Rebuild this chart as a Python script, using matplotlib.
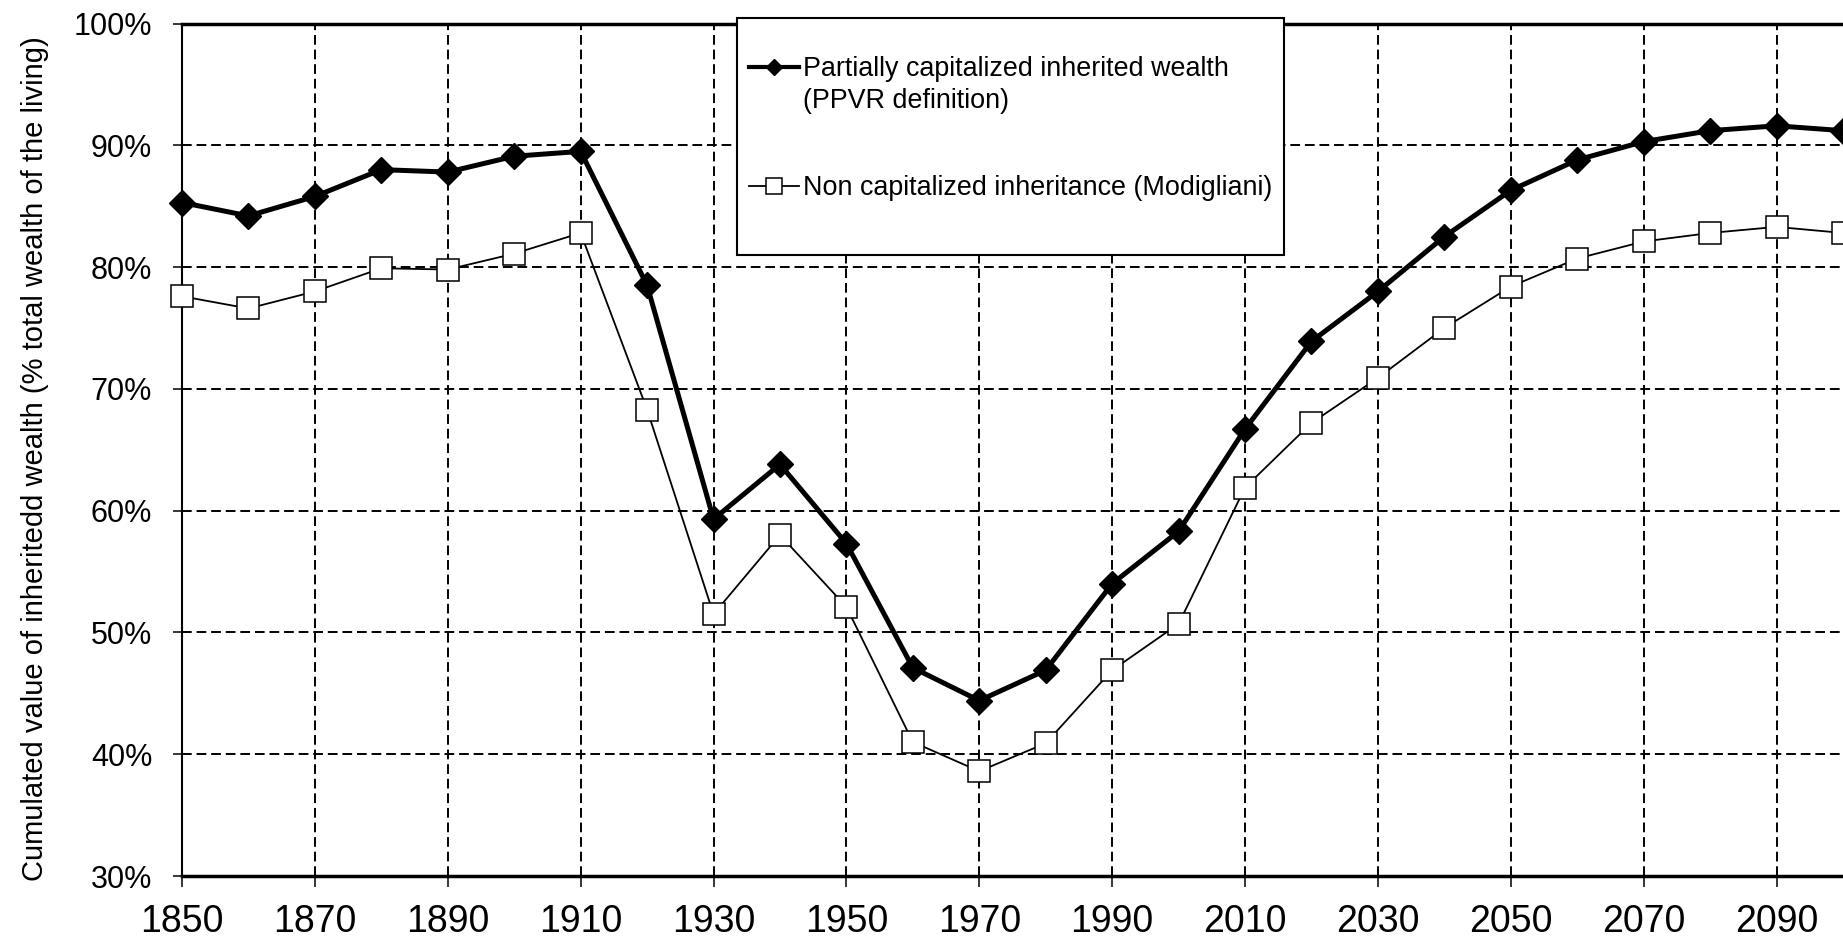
import matplotlib
matplotlib.use("Agg")
import matplotlib.pyplot as plt
import matplotlib.ticker as ticker
from matplotlib.lines import Line2D


# -------------------------------------------------
# Matplotlib configuration
# -------------------------------------------------

plt.rcParams['font.family'] = ['Liberation Sans', 'DejaVu Sans']


# -------------------------------------------------
# Data
# -------------------------------------------------

years = [1850, 1860, 1870, 1880, 1890, 1900, 1910, 1920, 1930, 1940,
         1950, 1960, 1970, 1980, 1990, 2000, 2010, 2020, 2030, 2040,
         2050, 2060, 2070, 2080, 2090, 2100]

capitalized = [85.3, 84.2, 85.8, 88.0, 87.8, 89.1, 89.5, 78.5, 59.3, 63.8,
               57.3, 47.1, 44.4, 46.9, 54.0, 58.3, 66.7, 73.9, 78.0, 82.5,
               86.3, 88.8, 90.3, 91.2, 91.6, 91.2]

non_capitalized = [77.6, 76.6, 78.0, 79.9, 79.8, 81.1, 82.8, 68.3, 51.5, 58.0,
                   52.1, 41.0, 38.6, 40.9, 46.9, 50.7, 61.9, 67.2, 70.9, 75.0,
                   78.4, 80.7, 82.1, 82.8, 83.3, 82.8]

x_ticks = [1850, 1870, 1890, 1910, 1930, 1950, 1970, 1990, 2010, 2030,
           2050, 2070, 2090]
y_ticks = [30, 40, 50, 60, 70, 80, 90, 100]

label_cap = "Partially capitalized inherited wealth"
label_cap_2 = "(PPVR definition)"
label_noncap = "Non capitalized inheritance (Modigliani)"
y_label = "Cumulated value of inheritedd wealth (% total wealth of the living)"


# -------------------------------------------------
# Figure
# -------------------------------------------------

fig = plt.figure(figsize=(18.43, 9.42), dpi=100)
ax = fig.add_axes([182 / 1843, 1 - 876 / 942, 1 - 182 / 1843, (876 - 23.5) / 942])

ax.grid(True, color="black", linestyle=(0, (5, 2.5)), linewidth=1.4, zorder=0)
ax.set_axisbelow(True)

ax.plot(years, non_capitalized, color="black", lw=1.3,
        marker="s", ms=16.5, mfc="white", mec="black", mew=1.1,
        clip_on=False, zorder=3)

ax.plot(years, capitalized, color="black", lw=3.6,
        marker="D", ms=13.5, mfc="black", mec="black",
        clip_on=False, zorder=4)

# -----------------------------
# Axis configuration
# -----------------------------

ax.set_xlim(1850, 2100)
ax.set_ylim(30, 100)
ax.set_xticks(x_ticks)
ax.set_yticks(y_ticks)
ax.yaxis.set_major_formatter(ticker.PercentFormatter(xmax=100, decimals=0))

ax.tick_params(axis="x", labelsize=27, pad=12, length=8, width=1.1,
               direction="out", color="black")
ax.tick_params(axis="y", labelsize=22, pad=15, length=6.5, width=1.1,
               direction="out", color="black")

ax.spines["right"].set_visible(False)
ax.spines["left"].set_linewidth(1.5)
ax.spines["top"].set_linewidth(2.5)
ax.spines["bottom"].set_linewidth(2.5)
for s in ax.spines.values():
    s.set_color("black")

ax.set_ylabel(y_label, fontsize=21)
ax.yaxis.set_label_coords(-0.080, 0.49)

# -----------------------------
# Legend
# -----------------------------

h_cap = Line2D([], [], color="black", lw=3, marker="D", ms=8,
               mfc="black", mec="black")
h_noncap = Line2D([], [], color="black", lw=1.3, marker="s", ms=12,
                  mfc="white", mec="black", mew=1.1)
h_blank = Line2D([], [], linestyle="none")

leg = ax.legend(
    handles=[h_blank, h_cap, h_blank, h_blank, h_noncap, h_blank],
    labels=["", label_cap, label_cap_2, "", label_noncap, ""],
    loc="upper left",
    bbox_to_anchor=(737 / 1843, 1 - 17.6 / 942),
    bbox_transform=fig.transFigure,
    borderaxespad=0,
    fontsize=19.4,
    frameon=True,
    fancybox=False,
    framealpha=1,
    edgecolor="black",
    borderpad=0.45,
    labelspacing=0.22,
    handlelength=1.85,
    handleheight=0.5,
    handletextpad=0.15,
)
leg.get_frame().set_linewidth(1.5)
leg.set_zorder(10)

texts = leg.get_texts()
texts[0].set_fontsize(8.4)
texts[3].set_fontsize(36.8)
texts[5].set_fontsize(27.6)

fig.savefig("out.png", dpi=100)
